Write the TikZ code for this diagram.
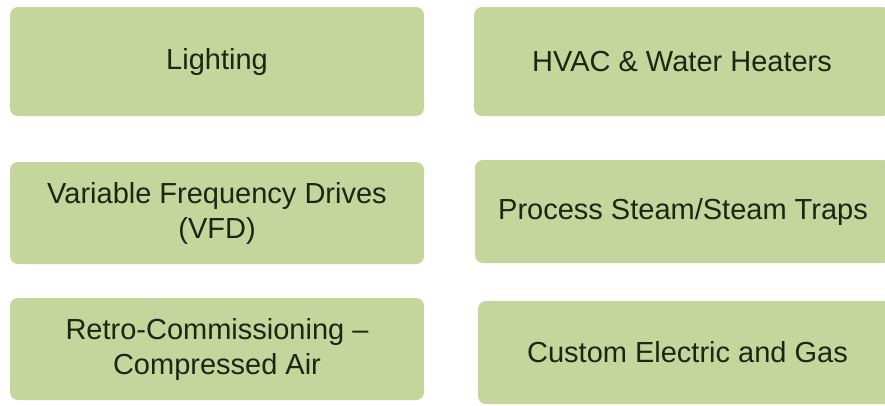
\documentclass[tikz,border=0pt]{standalone}
\usepackage{fontspec}
\setmainfont{Liberation Sans}
\definecolor{boxfill}{HTML}{C4D69C}
\definecolor{boxtext}{HTML}{1C2612}
\begin{document}
\begin{tikzpicture}[x=1pt,y=-1pt,
  item/.style={fill=boxfill, rounded corners=8pt, inner sep=0pt,
    align=center, text=boxtext,
    font=\fontsize{29}{35}\selectfont}]
  \useasboundingbox[fill=white] (0,0) rectangle (885,405);
  \begin{scope}
    \clip (0,0) rectangle (885,405);
    % left column
    \node[item, minimum width=414pt, minimum height=109pt] (light) at (217,61.5) {Lighting};
    \node[item, minimum width=414pt, minimum height=102pt] (vfd) at (217,213) {Variable Frequency Drives\\(VFD)};
    \node[item, minimum width=414pt, minimum height=102pt] (retro) at (217,349) {Retro-Commissioning –\\Compressed Air};
    % right column, running off the right edge
    \node[item, minimum width=416pt, minimum height=109pt] (hvac) at (682,61.5) {HVAC \& Water Heaters};
    \node[item, minimum width=416pt, minimum height=103pt] (steam) at (683,211.5) {Process Steam/Steam Traps};
    \node[item, minimum width=419pt, minimum height=103pt] (custom) at (687.5,352.5) {Custom Electric and Gas};
  \end{scope}
\end{tikzpicture}
\end{document}
